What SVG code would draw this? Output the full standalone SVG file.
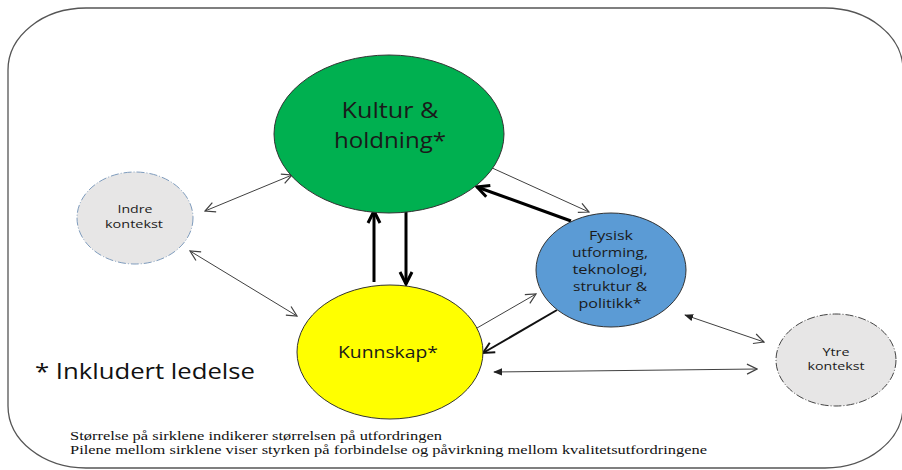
<svg xmlns="http://www.w3.org/2000/svg" width="902" height="470" viewBox="0 0 902 470">
<style>
.lbl{font-family:"Open Sans","Noto Sans","Liberation Sans",sans-serif;fill:#1a1a1a;text-anchor:middle}
.thin{stroke:#404040;stroke-width:1;fill:none}
.thick{stroke:#000;stroke-width:3;fill:none}
.med{stroke:#111;stroke-width:2;fill:none}
.note{font-family:"Liberation Serif","Times New Roman",serif;font-size:13px;fill:#111}
</style>
<defs>
<marker id="open" viewBox="0 0 12 12" refX="11" refY="6" markerWidth="12" markerHeight="12" markerUnits="userSpaceOnUse" orient="auto-start-reverse">
<path d="M1,1 L11,6 L1,11" fill="none" stroke="#404040" stroke-width="1.2"/>
</marker>
<marker id="solid" viewBox="0 0 10 10" refX="9" refY="5" markerWidth="9" markerHeight="9" markerUnits="userSpaceOnUse" orient="auto-start-reverse">
<path d="M0,1 L10,5 L0,9 Z" fill="#222"/>
</marker>
<marker id="openB" viewBox="0 0 16 16" refX="14" refY="8" markerWidth="16" markerHeight="16" markerUnits="userSpaceOnUse" orient="auto">
<path d="M2,2 L14,8 L2,14" fill="none" stroke="#000" stroke-width="3"/>
</marker>
<marker id="openM" viewBox="0 0 14 14" refX="12.5" refY="7" markerWidth="14" markerHeight="14" markerUnits="userSpaceOnUse" orient="auto">
<path d="M1.5,1.5 L12.5,7 L1.5,12.5" fill="none" stroke="#111" stroke-width="2"/>
</marker>
</defs>
<rect x="8" y="8" width="895" height="460" rx="78" ry="62" fill="#fff" stroke="#555" stroke-width="1.3"/>

<g id="connectors">
<line class="thin" x1="205" y1="211" x2="292" y2="175" marker-start="url(#open)" marker-end="url(#open)"/>
<line class="thin" x1="190" y1="251" x2="297" y2="316" marker-start="url(#open)" marker-end="url(#open)"/>
<line class="thin" x1="490" y1="167" x2="589" y2="212" marker-end="url(#open)"/>
<line class="thick" x1="571" y1="221" x2="477" y2="187" marker-end="url(#openB)"/>
<line class="thick" x1="374" y1="282" x2="374" y2="211" marker-end="url(#openB)"/>
<line class="thick" x1="406" y1="212" x2="406" y2="284" marker-end="url(#openB)"/>
<line class="thin" x1="477" y1="328" x2="536" y2="294" marker-end="url(#open)"/>
<line class="med" x1="557" y1="310" x2="483" y2="353" marker-end="url(#openM)"/>
<line class="thin" x1="685" y1="315" x2="764" y2="342" marker-start="url(#solid)" marker-end="url(#open)"/>
<line class="thin" x1="494" y1="372" x2="757" y2="369" marker-start="url(#solid)" marker-end="url(#open)"/>
</g>

<g id="kultur">
<ellipse cx="389" cy="134" rx="115" ry="79" fill="#00b050" stroke="#333" stroke-width="1"/>
<text class="lbl" x="390" y="118" font-size="21" textLength="97" lengthAdjust="spacingAndGlyphs">Kultur &amp;</text>
<text class="lbl" x="390" y="148" font-size="21" textLength="112" lengthAdjust="spacingAndGlyphs">holdning*</text>
</g>

<g id="indre">
<ellipse cx="135" cy="218" rx="58" ry="46" fill="#e7e6e6" stroke="#7f9cbd" stroke-width="1" stroke-dasharray="8,2,1,2"/>
<text class="lbl" x="135" y="213" font-size="11" textLength="35" lengthAdjust="spacingAndGlyphs">Indre</text>
<text class="lbl" x="134" y="228" font-size="11" textLength="58" lengthAdjust="spacingAndGlyphs">kontekst</text>
</g>

<g id="fysisk">
<ellipse cx="611" cy="270" rx="75" ry="57" fill="#5b9bd5" stroke="#333" stroke-width="1"/>
<text class="lbl" x="611" y="240" font-size="13" textLength="44" lengthAdjust="spacingAndGlyphs">Fysisk</text>
<text class="lbl" x="610" y="257" font-size="13" textLength="76" lengthAdjust="spacingAndGlyphs">utforming,</text>
<text class="lbl" x="610" y="274" font-size="13" textLength="75" lengthAdjust="spacingAndGlyphs">teknologi,</text>
<text class="lbl" x="610" y="291" font-size="13" textLength="74" lengthAdjust="spacingAndGlyphs">struktur &amp;</text>
<text class="lbl" x="610" y="308" font-size="13" textLength="63" lengthAdjust="spacingAndGlyphs">politikk*</text>
</g>

<g id="kunnskap">
<ellipse cx="390" cy="352" rx="93" ry="67" fill="#ffff00" stroke="#333" stroke-width="1"/>
<text class="lbl" x="388" y="358" font-size="17" textLength="100" lengthAdjust="spacingAndGlyphs">Kunnskap*</text>
</g>

<g id="ytre">
<ellipse cx="836" cy="360" rx="60" ry="46" fill="#e7e6e6" stroke="#444" stroke-width="1" stroke-dasharray="8,2,1,2"/>
<text class="lbl" x="836" y="356" font-size="11" textLength="27" lengthAdjust="spacingAndGlyphs">Ytre</text>
<text class="lbl" x="836" y="370" font-size="11" textLength="57" lengthAdjust="spacingAndGlyphs">kontekst</text>
</g>

<text x="35" y="379" font-family="'Open Sans','Noto Sans','Liberation Sans',sans-serif" font-size="21" fill="#111" textLength="220" lengthAdjust="spacingAndGlyphs">* Inkludert ledelse</text>
<text class="note" x="70" y="440" textLength="372" lengthAdjust="spacingAndGlyphs">Størrelse på sirklene indikerer størrelsen på utfordringen</text>
<text class="note" x="70" y="454" textLength="637" lengthAdjust="spacingAndGlyphs">Pilene mellom sirklene viser styrken på forbindelse og påvirkning mellom kvalitetsutfordringene</text>
</svg>
